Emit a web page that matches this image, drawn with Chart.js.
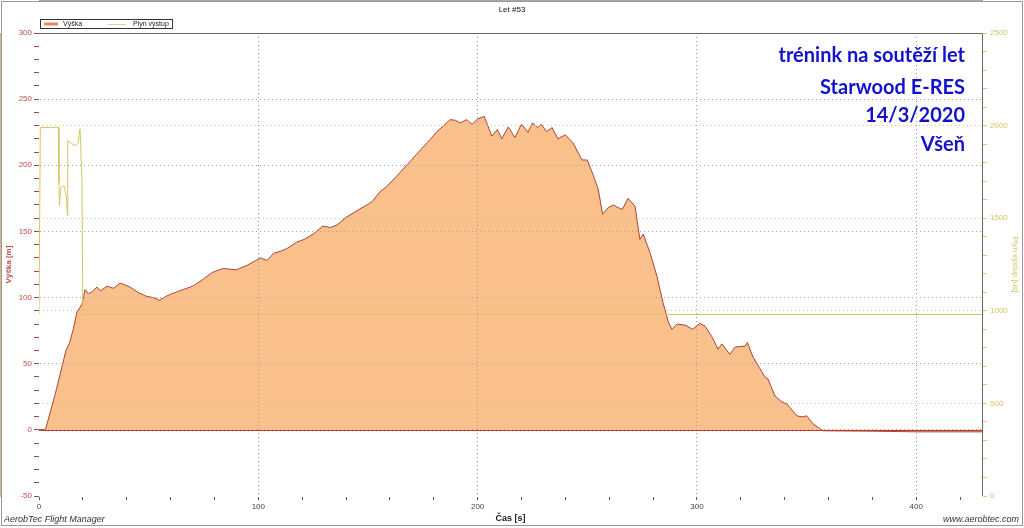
<!DOCTYPE html>
<html>
<head>
<meta charset="utf-8">
<script src="https://cdn.jsdelivr.net/npm/chart.js@4/dist/chart.umd.min.js"></script>
<style>
html, body { margin: 0; padding: 0; background: #fff; }
#wrap { width: 1024px; height: 528px; }
</style>
</head>
<body>
<div id="wrap"><canvas id="canvas" width="1024" height="528"></canvas></div>
<script>
// FLIGHT DATA
const timeAlt = [0, 3, 6.4, 8, 10.5, 12.3, 14, 15.6, 17.3, 19.6, 21, 22.5, 24, 26.4, 28, 31, 34, 37, 41.5, 45, 49, 52, 55, 58, 60, 64, 70, 75, 79, 84, 90, 95, 101, 104, 107, 110, 113, 117.6, 121, 125, 129.5, 133, 136, 140, 146, 149.5, 152, 155.5, 158.6, 163, 168, 172, 177, 181.5, 187.5, 190, 192, 195, 197.5, 200, 203, 206.5, 209, 211, 214, 217, 220, 223, 225, 227.5, 229, 231.5, 234, 236.6, 240, 243.5, 247.6, 250, 252.6, 255, 257, 259.6, 262, 264, 266, 268.6, 271.8, 274, 275.5, 278.6, 281.8, 284.5, 287, 288.6, 291, 295, 298, 301.4, 303.7, 307, 309.6, 311.4, 315, 317.4, 322, 323, 325.6, 331, 332.4, 335.6, 338.8, 341, 345.6, 348, 350, 353, 357.5, 380, 400, 430];
const altitude = [0, 0.5, 21, 31, 48, 60, 66, 76, 89, 95, 106, 103, 104, 108, 105, 108.6, 107, 111, 108, 104, 101, 100, 98, 101, 102.5, 105, 108.6, 114, 119, 122, 121, 124.5, 130, 128, 133.5, 135, 137, 142, 144, 148, 154, 153, 155, 160.6, 166.7, 170, 172.7, 180, 184, 191.6, 200.6, 208, 217, 225.5, 234.5, 234, 232, 234.5, 231, 235, 237, 222, 227, 220, 229, 221, 231, 225, 232, 228.5, 231, 225.5, 228.5, 220, 223, 217, 204, 204, 193, 182, 163, 168, 170, 168, 166.7, 175, 169, 144, 148, 134, 116, 96.5, 81.5, 76, 80, 79, 76, 80.5, 78.4, 70, 61, 65, 57, 62.6, 63.3, 66, 55, 40, 38.5, 25.6, 21, 19.6, 10.6, 9.8, 10.6, 4.5, -0.7, -1, -1.5, -1.5];

const timeThr = [0, 0.6, 8.8, 9.1, 9.3, 10, 11.4, 12.5, 12.8, 13, 13.2, 15, 16.9, 17.8, 18.7, 19.6, 20, 430];
const throttle = [980, 1990, 1990, 1692, 1568, 1665, 1676, 1611, 1541, 1514, 1918, 1902, 1891, 1907, 1983, 1703, 980, 980];

const noteLines = ['trénink na soutěží let', 'Starwood E-RES', '14/3/2020', 'Všeň'];

Chart.defaults.font.family = "'Liberation Sans', Arial, sans-serif";
Chart.defaults.font.size = 8;

// EXTRA DRAWING: frame, title, legend, note, footer
const decor = {
    id: 'decor',
    afterDraw(chart) {
        const ctx = chart.ctx;
        const a = chart.chartArea;
        ctx.save();

        // zero line of altitude
        const y0 = Math.round(chart.scales.y.getPixelForValue(0)) + 0.5;
        ctx.strokeStyle = '#C0392B';
        ctx.lineWidth = 1;
        ctx.beginPath();
        ctx.moveTo(a.left, y0);
        ctx.lineTo(a.right, y0);
        ctx.stroke();

        // plot box
        ctx.strokeStyle = '#666';
        ctx.beginPath();
        ctx.moveTo(a.left, a.top + 0.5);
        ctx.lineTo(a.right + 0.5, a.top + 0.5);
        ctx.lineTo(a.right + 0.5, a.bottom);
        ctx.stroke();

        // outer frame
        ctx.strokeStyle = '#999';
        ctx.strokeRect(1.5, 1.5, 1021, 524);

        // title
        ctx.fillStyle = '#111';
        ctx.font = "8px 'Liberation Sans', Arial";
        ctx.textAlign = 'center';
        ctx.textBaseline = 'middle';
        ctx.fillText('Let #53', 512, 10);

        // legend
        ctx.strokeStyle = '#333';
        ctx.strokeRect(40.5, 19.5, 132, 9);
        ctx.lineWidth = 3;
        ctx.strokeStyle = '#E8875A';
        ctx.beginPath(); ctx.moveTo(44, 24); ctx.lineTo(58, 24); ctx.stroke();
        ctx.lineWidth = 1;
        ctx.strokeStyle = '#D6D49A';
        ctx.beginPath(); ctx.moveTo(108, 24.5); ctx.lineTo(126, 24.5); ctx.stroke();
        ctx.font = "7px 'Liberation Sans', Arial";
        ctx.textAlign = 'left';
        ctx.fillStyle = '#222';
        ctx.fillText(chart.data.datasets[0].label, 63, 24);
        ctx.fillText(chart.data.datasets[1].label, 133, 24);

        // note
        ctx.font = "bold 20px Lato, 'DejaVu Sans', sans-serif";
        ctx.fillStyle = '#1212CC';
        ctx.textAlign = 'right';
        ctx.textBaseline = 'alphabetic';
        const base = [62, 94, 122, 151];
        noteLines.forEach((s, i) => ctx.fillText(s, 965, base[i]));

        // footer
        ctx.font = "italic 9px 'Liberation Sans', Arial";
        ctx.fillStyle = '#333';
        ctx.textAlign = 'left';
        ctx.fillText('AerobTec Flight Manager', 4, 522);
        ctx.textAlign = 'right';
        ctx.fillText('www.aerobtec.com', 1019, 522);
        ctx.restore();
    }
};

const ctx = document.getElementById('canvas').getContext('2d');

const myChart = new Chart(ctx, {
    type: 'line',
    data: {
        datasets: [{
            label: 'Výška',
            data: timeAlt.map((t, i) => ({ x: t, y: altitude[i] })),
            yAxisID: 'y',
            borderColor: '#A8453A',
            backgroundColor: '#FAC08C',
            borderWidth: 1,
            fill: 'origin',
            pointRadius: 0,
            tension: 0,
            order: 1
        }, {
            label: 'Plyn výstup',
            data: timeThr.map((t, i) => ({ x: t, y: throttle[i] })),
            yAxisID: 'y1',
            borderColor: '#D6C55E',
            borderWidth: 1,
            fill: false,
            pointRadius: 0,
            tension: 0,
            order: 0
        }]
    },
    options: {
        responsive: false,
        animation: false,
        devicePixelRatio: 1,
        layout: { padding: { left: 2, right: 2, top: 33, bottom: 2 } },
        plugins: { legend: { display: false }, tooltip: { enabled: false } },
        scales: {
            x: {
                type: 'linear',
                min: 0,
                max: 430,
                afterFit: s => { s.height = 30; },
                ticks: {
                    stepSize: 20,
                    includeBounds: false,
                    autoSkip: false,
                    maxRotation: 0,
                    padding: 2,
                    color: '#444',
                    callback: v => (v % 100 === 0 ? v : '')
                },
                grid: {
                    z: 1,
                    color: c => (c.tick && c.tick.value % 100 === 0 && c.tick.value > 0 ? '#9a9a9a' : 'transparent'),
                    tickColor: '#555',
                    tickLength: 4
                },
                border: { color: '#555', dash: [1, 3] },
                title: { display: true, text: 'Čas [s]', color: '#222', font: { size: 9, weight: 'bold' }, padding: 2 }
            },
            y: {
                position: 'left',
                min: -50,
                max: 300,
                afterFit: s => { s.width = 37; },
                ticks: {
                    stepSize: 10,
                    autoSkip: false,
                    padding: 2,
                    color: '#C0504D',
                    callback: v => (v % 50 === 0 ? v : '')
                },
                grid: {
                    z: 1,
                    color: c => (c.tick && c.tick.value % 50 === 0 && c.tick.value > -50 && c.tick.value < 300 ? 'rgba(175,150,150,0.9)' : 'transparent'),
                    tickColor: '#A04848',
                    tickLength: 5
                },
                border: { color: '#A04848', dash: [1, 3] },
                title: { display: true, text: 'Výška [m]', color: '#C0504D', font: { size: 8, weight: 'bold' }, padding: 2 }
            },
            y1: {
                position: 'right',
                min: 0,
                max: 2500,
                afterFit: s => { s.width = 40; },
                ticks: {
                    stepSize: 100,
                    autoSkip: false,
                    padding: 3,
                    color: '#D2C46A',
                    callback: v => (v % 500 === 0 ? v : '')
                },
                grid: {
                    z: 1,
                    color: c => (c.tick && c.tick.value % 500 === 0 && c.tick.value > 0 && c.tick.value < 2500 ? 'rgba(205,195,120,0.9)' : 'transparent'),
                    tickColor: '#D8CB7A',
                    tickLength: 5
                },
                border: { color: '#D8CB7A', dash: [1, 3] },
                title: { display: true, text: 'Plyn výstup [us]', color: '#D2C46A', font: { size: 8 }, padding: 2 }
            }
        }
    },
    plugins: [decor]
});
</script>
</body>
</html>
